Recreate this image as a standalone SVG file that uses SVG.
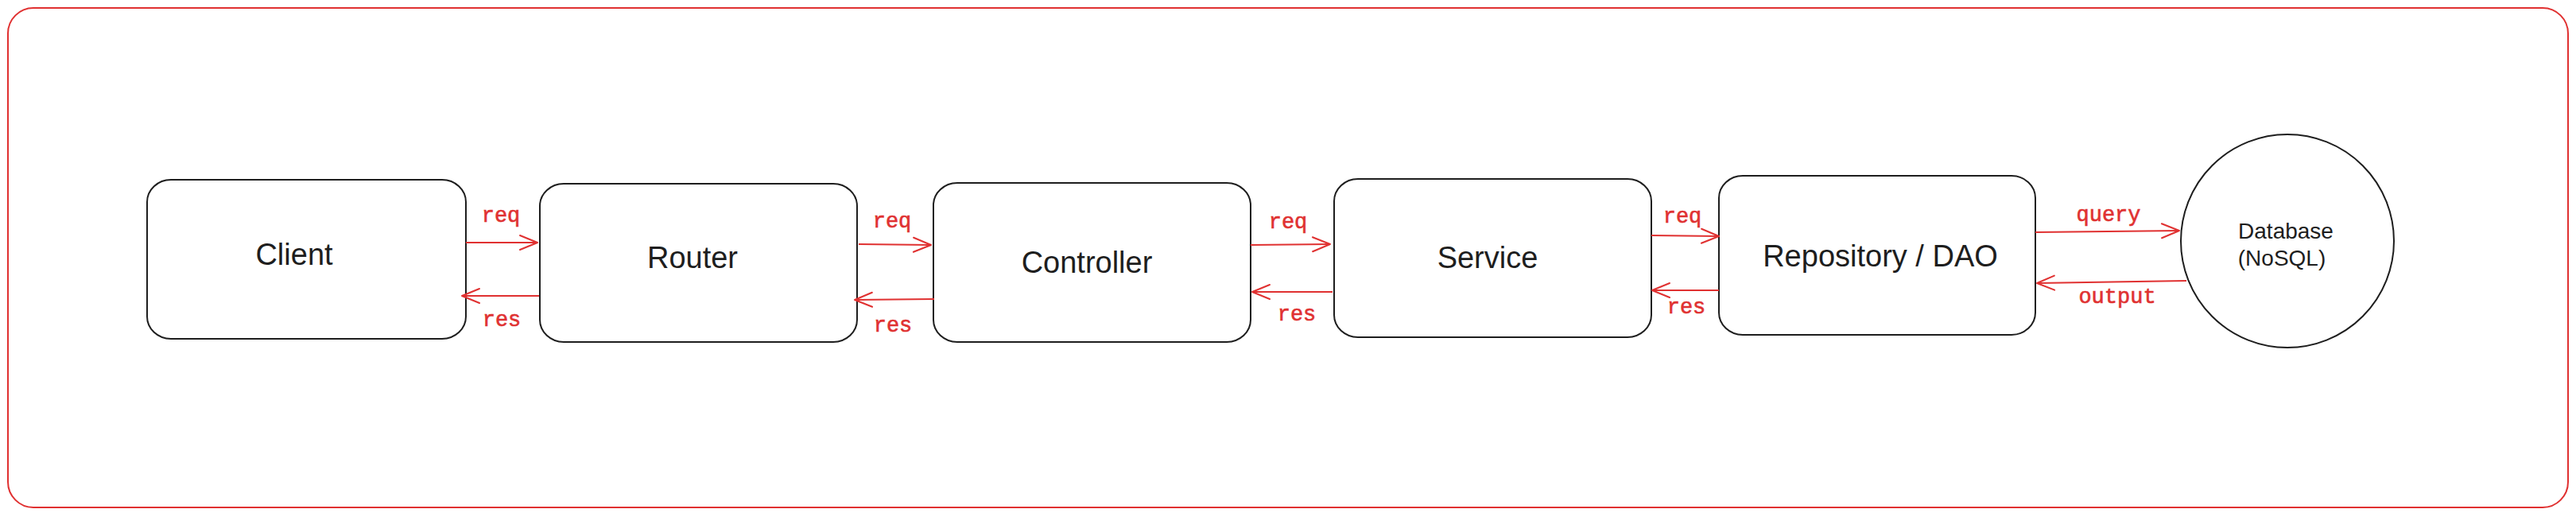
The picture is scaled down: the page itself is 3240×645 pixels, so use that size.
<svg xmlns="http://www.w3.org/2000/svg" width="3240" height="645" viewBox="0 0 3240 645">
<defs>
<style>
.frame{fill:none;stroke:#e03131;stroke-width:2}
.box{fill:#ffffff;stroke:#1e1e1e;stroke-width:2}
.lbl{font-family:"Liberation Sans",Arial,Helvetica,sans-serif;font-size:38px;fill:#1e1e1e;text-anchor:middle}
.dbl{font-family:"Liberation Sans",Arial,Helvetica,sans-serif;font-size:28px;fill:#1e1e1e;text-anchor:middle}
.cl{fill:none;stroke:#e03131;stroke-width:2;marker-end:url(#ah)}
.ct{font-family:"Liberation Mono","Courier New",monospace;font-size:27px;fill:#e03131;stroke:#e03131;stroke-width:0.6;text-anchor:middle}
</style>
<marker id="ah" markerUnits="userSpaceOnUse" viewBox="-24 -12 28 24" refX="0" refY="0" markerWidth="28" markerHeight="24" orient="auto" overflow="visible">
<path d="M-22,-9 L0,0 L-22,9" fill="none" stroke="#e03131" stroke-width="2" stroke-linecap="round" stroke-linejoin="round"/>
</marker>
</defs>
<rect width="3240" height="645" fill="#ffffff"/>
<rect id="frame" class="frame" x="10" y="10" width="3220" height="628" rx="32" ry="32"/>
<g id="client">
<rect class="box" x="185" y="226" width="401" height="200" rx="30" ry="28"/>
<text class="lbl" x="370" y="333">Client</text>
</g>
<g id="router">
<rect class="box" x="679" y="231" width="399" height="199" rx="30" ry="28"/>
<text class="lbl" x="871" y="337">Router</text>
</g>
<g id="controller">
<rect class="box" x="1174" y="230" width="399" height="200" rx="30" ry="28"/>
<text class="lbl" x="1367" y="343">Controller</text>
</g>
<g id="service">
<rect class="box" x="1678" y="225" width="399" height="199" rx="30" ry="28"/>
<text class="lbl" x="1871" y="337">Service</text>
</g>
<g id="repository">
<rect class="box" x="2162" y="221" width="398" height="200" rx="30" ry="28"/>
<text class="lbl" x="2365" y="335">Repository / DAO</text>
</g>
<g id="database">
<ellipse class="box" cx="2877" cy="303" rx="134" ry="134"/>
<text class="dbl" x="2875" y="300">Database</text>
<text class="dbl" x="2870" y="334">(NoSQL)</text>
</g>
<g id="connectors">
<path class="cl" d="M586,305 L676,305"/>
<text class="ct" x="630" y="279">req</text>
<path class="cl" d="M678,372 L581,372"/>
<text class="ct" x="631" y="410">res</text>
<path class="cl" d="M1080,307 L1171,308"/>
<text class="ct" x="1122" y="286">req</text>
<path class="cl" d="M1175,376 L1075,377"/>
<text class="ct" x="1123" y="417">res</text>
<path class="cl" d="M1573,308 L1673,307"/>
<text class="ct" x="1620" y="287">req</text>
<path class="cl" d="M1676,367 L1575,367"/>
<text class="ct" x="1631" y="403">res</text>
<path class="cl" d="M2077,296 L2162,297"/>
<text class="ct" x="2116" y="280">req</text>
<path class="cl" d="M2162,365 L2078,365"/>
<text class="ct" x="2121" y="394">res</text>
<path class="cl" d="M2560,292 L2741,290"/>
<text class="ct" x="2652" y="278">query</text>
<path class="cl" d="M2750,353 L2562,356"/>
<text class="ct" x="2663" y="381">output</text>
</g>
</svg>
